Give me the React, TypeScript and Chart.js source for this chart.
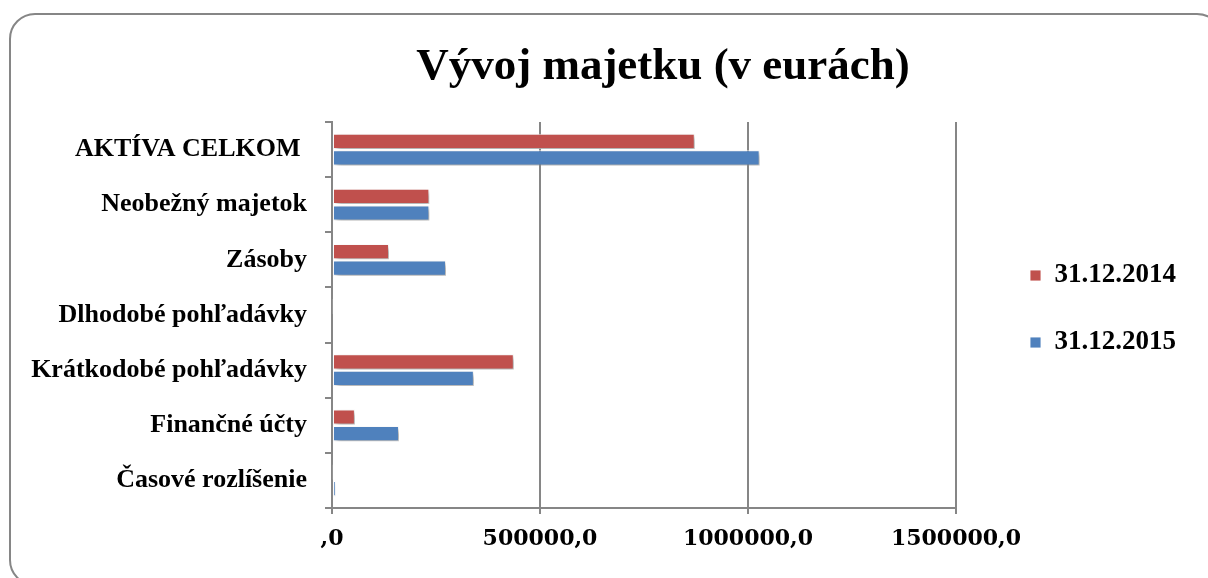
import React, { useEffect, useRef } from "react";
import { Chart, registerables } from "chart.js";

Chart.register(...registerables);

const titleText = "Vývoj majetku (v eurách)";
const categories = [
  "AKTÍVA CELKOM ",
  "Neobežný majetok",
  "Zásoby",
  "Dlhodobé pohľadávky",
  "Krátkodobé pohľadávky",
  "Finančné účty",
  "Časové rozlíšenie",
];
const seriesNames = ["31.12.2014", "31.12.2015"];
const values2014 = [872000, 234000, 137000, 1500, 437000, 55000, 1500];
const values2015 = [1028000, 234000, 274000, 0, 341000, 161000, 9000];
const xTickValues = [0, 500000, 1000000, 1500000];
const xTickLabels = [",0", "500000,0", "1000000,0", "1500000,0"];

const FONT = "'Liberation Serif', 'Times New Roman', serif";
const TICK_FONT = "'DejaVu Serif', serif";

const framePlugin = {
  id: "frame",
  beforeDraw(chart: any) {
    const ctx = chart.ctx;
    ctx.save();
    ctx.strokeStyle = "#868686";
    ctx.lineWidth = 2;
    const x = 10, y = 14, w = 1212, h = 571, r = 25;
    ctx.beginPath();
    ctx.moveTo(x + r, y);
    ctx.lineTo(x + w - r, y);
    ctx.arcTo(x + w, y, x + w, y + r, r);
    ctx.lineTo(x + w, y + h - r);
    ctx.arcTo(x + w, y + h, x + w - r, y + h, r);
    ctx.lineTo(x + r, y + h);
    ctx.arcTo(x, y + h, x, y + h - r, r);
    ctx.lineTo(x, y + r);
    ctx.arcTo(x, y, x + r, y, r);
    ctx.closePath();
    ctx.stroke();
    ctx.restore();
  },
  afterDraw(chart: any) {
    const ctx = chart.ctx;
    ctx.save();
    ctx.fillStyle = "#000";
    ctx.font = `bold 45px ${FONT}`;
    ctx.textAlign = "center";
    ctx.textBaseline = "middle";
    ctx.fillText(titleText, 663, 67);
    ctx.restore();
  },
};

const shadowPlugin = {
  id: "barShadow",
  beforeDatasetsDraw(chart: any) {
    const ctx = chart.ctx;
    ctx.save();
    ctx.shadowColor = "rgba(0,0,0,0.35)";
    ctx.shadowBlur = 5;
    ctx.shadowOffsetX = 3;
    ctx.shadowOffsetY = 3;
  },
  afterDatasetsDraw(chart: any) {
    chart.ctx.restore();
  },
};

export default function App() {
  const ref = useRef<HTMLCanvasElement>(null);
  useEffect(() => {
    document.body.style.margin = "0";
    const chart = new Chart(ref.current as HTMLCanvasElement, {
      type: "bar",
      data: {
        labels: categories,
        datasets: [
          {
            label: seriesNames[0],
            data: values2014,
            backgroundColor: "#C0504D",
            borderColor: "rgba(255,255,255,0.85)",
            borderWidth: 1,
            borderSkipped: false,
            categoryPercentage: 0.6,
            barPercentage: 0.92,
          },
          {
            label: seriesNames[1],
            data: values2015,
            backgroundColor: "#4F81BD",
            borderColor: "rgba(255,255,255,0.85)",
            borderWidth: 1,
            borderSkipped: false,
            categoryPercentage: 0.6,
            barPercentage: 0.92,
          },
        ],
      },
      options: {
        indexAxis: "y",
        animation: false,
        responsive: false,
        maintainAspectRatio: false,
        layout: { padding: { left: 20, right: 24, top: 122, bottom: 10 } },
        plugins: {
          title: { display: false },
          tooltip: { enabled: false },
          legend: {
            display: true,
            position: "right",
            align: "start",
            title: {
              display: true,
              text: " ",
              font: { size: 10 },
              padding: { top: 88, bottom: 0 },
            },
            labels: {
              boxWidth: 11,
              boxHeight: 11,
              padding: 40,
              color: "#000",
              font: { family: FONT, size: 27, weight: "bold" },
            },
          },
        },
        scales: {
          x: {
            type: "linear",
            min: 0,
            max: 1500000,
            afterBuildTicks(scale: any) {
              scale.ticks = xTickValues.map((v) => ({ value: v }));
            },
            afterFit(scale: any) {
              scale.height = 60;
            },
            ticks: {
              color: "#000",
              padding: 12,
              font: { family: TICK_FONT, size: 22, weight: "bold" },
              callback: (v: any) => {
                const i = xTickValues.indexOf(Number(v));
                return i >= 0 ? xTickLabels[i] : "";
              },
            },
            grid: {
              color: "#868686",
              lineWidth: 2,
              tickLength: 6,
              drawOnChartArea: true,
            },
            border: { color: "#868686", width: 2 },
          },
          y: {
            afterFit(scale: any) {
              scale.width = 312;
            },
            ticks: {
              color: "#000",
              padding: 18,
              font: { family: FONT, size: 26, weight: "bold" },
            },
            grid: {
              offset: true,
              color: "#868686",
              lineWidth: 2,
              tickLength: 7,
              drawOnChartArea: false,
            },
            border: { color: "#868686", width: 2 },
          },
          ySpacer: {
            type: "category",
            position: "right",
            afterFit(scale: any) {
              scale.width = 34;
            },
            ticks: { display: false },
            grid: { display: false },
            border: { display: false },
          },
        },
      },
      plugins: [framePlugin, shadowPlugin],
    } as any);
    return () => chart.destroy();
  }, []);
  return (
    <div style={{ position: "fixed", left: 0, top: 0, width: 1208, height: 578, background: "#fff" }}>
      <canvas ref={ref} width={1208} height={578} style={{ display: "block" }} />
    </div>
  );
}
